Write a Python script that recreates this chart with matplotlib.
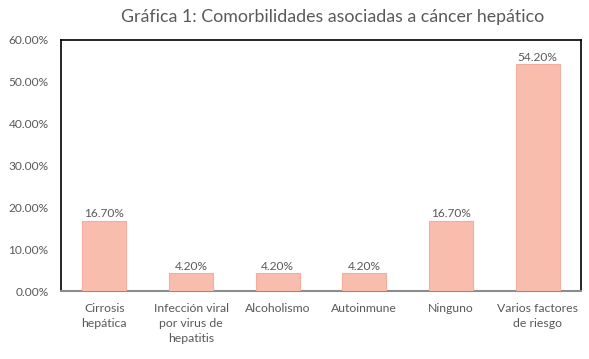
import numpy as np
import matplotlib
matplotlib.use("Agg")
import matplotlib.pyplot as plt
from matplotlib.ticker import FuncFormatter

# datos
categorias = ["Cirrosis\nhepática", "Infección viral\npor virus de\nhepatitis", "Alcoholismo",
              "Autoinmune", "Ninguno", "Varios factores\nde riesgo"]
valores = [16.7, 4.2, 4.2, 4.2, 16.7, 54.2]
y_ticks = [0, 10, 20, 30, 40, 50, 60]

GRIS = "#595959"
plt.rcParams['font.family'] = ['Lato', 'DejaVu Sans']

fig = plt.figure(figsize=(5.89, 3.59), dpi=100)
ax = fig.add_axes([61/589, 1 - 291/359, 520/589, 251/359])

x = np.arange(len(categorias))
bars = ax.bar(x, valores, width=0.51, color="#F9BDAD", edgecolor="#F2AE9C", linewidth=0.8, zorder=3)
for b, v in zip(bars, valores):
    ax.text(b.get_x() + b.get_width()/2, v + 0.4, f"{v:.2f}%", ha="center", va="bottom",
            fontsize=8.6, color=GRIS)

ax.set_xlim(-0.5, len(categorias) - 0.5)
ax.set_ylim(0, 60)
ax.set_yticks(y_ticks)
ax.yaxis.set_major_formatter(FuncFormatter(lambda v, p: f"{v:.2f}%"))
ax.set_xticks(x)
ax.set_xticklabels(categorias, fontsize=8.8, color=GRIS, linespacing=1.4, va="top")
ax.tick_params(axis="y", labelsize=8.6, labelcolor=GRIS, length=0, pad=9)
ax.tick_params(axis="x", length=0, pad=9)

for s in ["left", "top", "right"]:
    ax.spines[s].set_color("black")
    ax.spines[s].set_linewidth(1.2)
ax.spines["bottom"].set_color("#8c8c8c")
ax.spines["bottom"].set_linewidth(1.5)

fig.text(0.565, 1 - 17/359, "Gráfica 1: Comorbilidades asociadas a cáncer hepático",
         ha="center", va="center", fontsize=12.8, color=GRIS)

fig.savefig("out.png", dpi=100)
